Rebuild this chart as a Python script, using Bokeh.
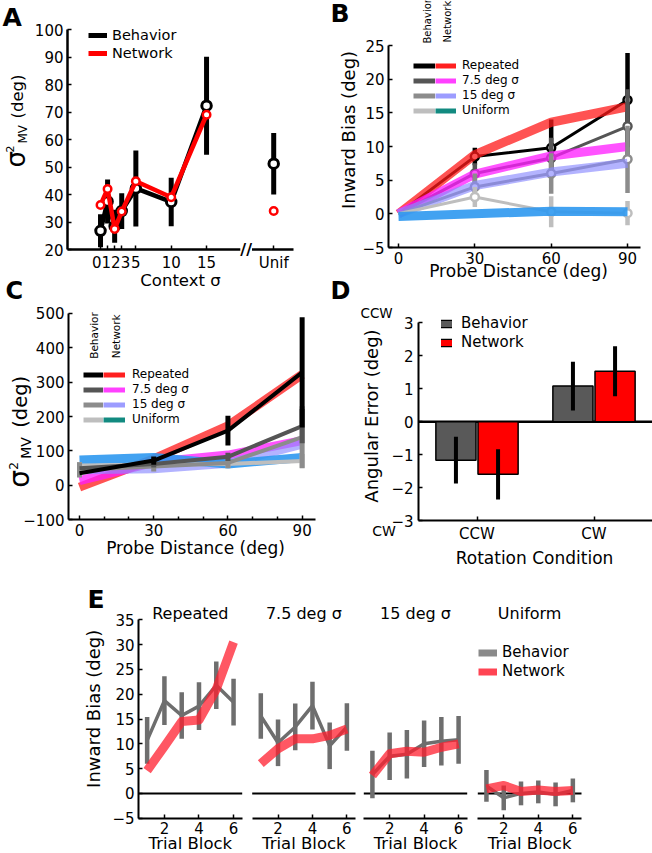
from math import pi
from bokeh.plotting import figure
from bokeh.models import Label, Legend, LegendItem, FixedTicker, Range1d
from bokeh.layouts import row, column
from bokeh.embed import file_html
from bokeh.resources import INLINE

FONT = "DejaVu Sans"
NAN = float("nan")

# ---------------- Panel A data ----------------
A_SIGMA = [0, 1, 2, 3, 5, 10, 15]
A_BEH = [26.8, 37.5, 28.5, 34.0, 42.2, 37.3, 72.3]
A_BEH_ERR = [6.0, 8.0, 6.0, 6.5, 13.8, 8.8, 17.8]
A_NET = [36.2, 42.0, 27.5, 33.8, 44.8, 39.0, 69.0]
A_UNIF_POS = [24.5]
A_UNIF_BEH = [51.2]
A_UNIF_BEH_ERR = [11.2]
A_UNIF_NET = [34.0]
A_TICK_POS = [1.5, 5, 10, 15, 24.5]
A_TICK_LABELS = ["0123", "5", "10", "15", "Unif"]
A_BREAK = 20.6

# ---------------- Panel B data ----------------
PROBE = [0, 30, 60, 90]
CONDITIONS = ["Repeated", "7.5 deg σ", "15 deg σ", "Uniform"]
B_BEH = [[0, 8.5, 9.8, 16.9], [0, 6.0, 8.3, 13.0], [0, 4.0, 6.0, 8.1], [0, 2.5, 0.3, 0.1]]
B_BEH_ERR = [[0, 1.3, 4.2, 7.0], [0, 1.5, 3.0, 5.5], [0, 2.0, 3.0, 5.0], [0, 1.5, 2.3, 1.8]]
B_NET = [[0, 8.8, 13.6, 15.9], [0, 5.9, 8.6, 10.0], [0, 4.2, 6.2, 7.5], [-0.4, 0.0, 0.4, 0.3]]

# ---------------- Panel C data ----------------
C_BEH = [[35, 72, 159, 328], [50, 62, 83, 172], [45, 55, 65, 140], [58, 60, 62, 71]]
C_BEH_ERR = [[0, 12, 43, 160], [0, 10, 12, 50], [22, 15, 15, 90], [10, 10, 10, 20]]
C_NET = [[-5, 77, 173, 322], [14, 67, 88, 130], [45, 48, 64, 120], [74, 81, 62, 81]]

# ---------------- Panel D data ----------------
D_CONDITIONS = ["CCW", "CW"]
D_POS = [1, 2]
D_BEH = [-1.17, 1.08]
D_BEH_ERR = [0.71, 0.74]
D_NET = [-1.6, 1.53]
D_NET_ERR = [0.76, 0.76]

# ---------------- Panel E data ----------------
E_BLOCK = [1, 2, 3, 4, 5, 6]
E_TITLES = ["Repeated", "7.5 deg σ", "15 deg σ", "Uniform"]
E_BEH = [[10.7, 18.7, 15.7, 17.6, 21.8, 18.4],
         [15.6, 10.2, 13.4, 17.7, 9.6, 13.4],
         [3.8, 7.5, 7.9, 10.0, 10.5, 10.8],
         [1.5, -0.9, 0.0, 0.3, -0.2, 0.6]]
E_BEH_ERR = [[4.7, 4.9, 4.7, 4.8, 4.8, 4.7],
             [4.6, 4.7, 4.7, 4.8, 4.7, 4.8],
             [4.8, 4.8, 4.9, 4.7, 4.9, 4.8],
             [3.2, 2.5, 2.4, 2.3, 2.4, 2.4]]
E_NET = [[4.6, 9.5, 14.5, 14.8, 21.0, 30.5],
         [6.0, 9.0, 11.0, 11.0, 11.7, 13.0],
         [3.6, 8.0, 8.5, 8.3, 9.3, 10.0],
         [0.9, 1.6, 0.4, 0.7, 0.4, 0.6]]

# ---------------- styles ----------------
BEH_COLORS = ["#000000", "#555555", "#8c8c8c", "#bebebe"]
NET_COLORS = ["#ff1a1a", "#ff1aff", "#8a8aff", "#2e98f0"]
NET_ALPHA = [0.75, 0.75, 0.65, 0.9]
NET_LEG_COLORS = ["#ff2020", "#ff40ff", "#9c9cff", "#128a80"]
BASE_SHIFT = 0.33   # rendered alphabetic baseline sits this many em below the anchor
ROW1_H = 304


def fig(W, H, origin, box, xr, yr, axis_w=2):
    """origin = page (x, y) of canvas; box = page (left, top, right, bottom) of the axes box."""
    ox, oy = origin
    l, t, r, b = box[0] - ox, box[1] - oy, box[2] - ox, box[3] - oy
    ppx = (r - l) / (xr[1] - xr[0])
    ppy = (b - t) / (yr[1] - yr[0])
    xs = (xr[0] - l / ppx, xr[1] + (W - r) / ppx)
    ys = (yr[0] - (H - b) / ppy, yr[1] + t / ppy)
    p = figure(width=W, height=H, x_range=Range1d(*xs), y_range=Range1d(*ys), title=None,
               output_backend="svg", toolbar_location=None, tools="", min_border=0)
    p.grid.visible = False
    p.outline_line_color = None
    p.background_fill_color = "white"
    p.border_fill_color = "white"
    p.xaxis.fixed_location = yr[0]
    p.xaxis.bounds = xr
    p.yaxis.fixed_location = xr[0]
    p.yaxis.bounds = yr
    for ax in p.axis:
        ax.axis_line_width = axis_w
        ax.axis_line_color = "black"
        ax.major_tick_in = 4
        ax.major_tick_out = 0
        ax.minor_tick_in = 0
        ax.minor_tick_out = 0
        ax.major_tick_line_width = 1.5
        ax.major_tick_line_color = "black"
        ax.minor_tick_line_color = "black"
        ax.minor_tick_line_width = 1.5
        ax.major_label_text_font = FONT
        ax.major_label_text_font_size = "15px"
        ax.major_label_text_color = "black"
        ax.major_label_standoff = 4
    p._origin = (ox, oy, W, H)
    return p


def lab(p, text, x, y, dx, dy, size, align="left", angle=0.0, bold=False):
    shift = BASE_SHIFT * size
    if angle == 0:
        dy += shift
    else:
        dx -= shift
    p.add_layout(Label(x=x, y=y, x_offset=dx, y_offset=dy, text=text, angle=angle,
                       text_font=FONT, text_font_size=f"{size}px", text_color="black",
                       text_align=align, text_baseline="alphabetic",
                       text_font_style="bold" if bold else "normal"))


def legend(p, items, page_x, page_bottom, gw, gh, size, standoff):
    ox, oy, W, H = p._origin
    lg = Legend(items=items, location=(page_x - ox, oy + H - page_bottom), glyph_width=gw,
                glyph_height=gh, label_height=gh, label_standoff=standoff, spacing=0, padding=0,
                margin=0, border_line_color=None, background_fill_alpha=0,
                label_text_font=FONT, label_text_font_size=f"{size}px", label_text_color="black")
    p.add_layout(lg)


def proxy(p, color, width, alpha=1.0, cap="butt"):
    return p.line(x=[NAN], y=[NAN], line_color=color, line_width=width, line_alpha=alpha, line_cap=cap)


def sigma_mv(p, x0, y0, dx, dy, sizes, gaps):
    """σ, superscript 2, subscript MV and (deg), stacked upward along a rotated baseline."""
    s_sig, s_two, s_mv, s_deg = sizes
    g_two, g_mv, g_deg = gaps
    lab(p, "σ", x0, y0, dx, dy, s_sig, angle=pi / 2)
    lab(p, "2", x0, y0, dx - 0.4 * s_sig, dy + g_two, s_two, angle=pi / 2)
    lab(p, "MV", x0, y0, dx + 2, dy + g_mv, s_mv, angle=pi / 2)
    lab(p, "(deg)", x0, y0, dx - 2, dy + g_deg, s_deg, angle=pi / 2)


def lo_hi(m, e):
    return [a - b for a, b in zip(m, e)], [a + b for a, b in zip(m, e)]


# ================= Panel A =================
AX = (-4.67, 27.3)
AY = (20, 100)
pA = fig(330, ROW1_H, (0, 0), (67, 29, 293, 249), AX, AY, axis_w=2.5)
pA.yaxis.ticker = FixedTicker(ticks=[20, 30, 40, 50, 60, 70, 80, 90, 100])
pA.xaxis.ticker = FixedTicker(ticks=A_TICK_POS, minor_ticks=A_SIGMA + A_UNIF_POS)
pA.xaxis.major_label_overrides = {k: v for k, v in zip(A_TICK_POS, A_TICK_LABELS)}
pA.xaxis.major_tick_in = 0
pA.xaxis.minor_tick_in = 4

lo, hi = lo_hi(A_BEH, A_BEH_ERR)
pA.segment(x0=A_SIGMA, y0=lo, x1=A_SIGMA, y1=hi, line_color="black", line_width=5)
ulo, uhi = lo_hi(A_UNIF_BEH, A_UNIF_BEH_ERR)
pA.segment(x0=A_UNIF_POS, y0=ulo, x1=A_UNIF_POS, y1=uhi, line_color="black", line_width=5)
pA.line(A_SIGMA, A_BEH, line_color="black", line_width=4.5, line_join="round")
pA.scatter(A_SIGMA, A_BEH, size=9.5, line_color="black", line_width=3, fill_color="white")
pA.scatter(A_UNIF_POS, A_UNIF_BEH, size=9.5, line_color="black", line_width=3, fill_color="white")
pA.line(A_SIGMA, A_NET, line_color="#ff0000", line_width=4.5, line_join="round")
pA.scatter(A_SIGMA, A_NET, size=7.5, line_color="#ff0000", line_width=2.5, fill_color="white")
pA.scatter(A_UNIF_POS, A_UNIF_NET, size=7.5, line_color="#ff0000", line_width=2.5, fill_color="white")

legend(pA, [LegendItem(label="Behavior", renderers=[proxy(pA, "black", 5)]),
            LegendItem(label="Network", renderers=[proxy(pA, "#ff0000", 5)])], 88, 62, 19, 18, 14.5, 5)

pA.add_layout(Label(x=A_BREAK, y=AY[0], text="//", text_font=FONT, text_font_size="16px",
                    text_font_style="bold", text_color="black", text_align="center",
                    text_baseline="middle", background_fill_color="white"))
lab(pA, "A", AX[0], AY[1], -65, 4, 25, bold=True)
sigma_mv(pA, AX[0], AY[0], -43, 82, (26, 11, 12, 16.5), (15, 24, 49))
lab(pA, "Context σ", AX[0], AY[0], 113, -36, 16.5, align="center")
# panel letter of C sits just above C's canvas
lab(pA, "C", AX[0], AY[0], -62, -49, 24, bold=True)

# ================= Panel B =================
BX = (-3.93, 95.1)
BY = (-5, 25)
pB = fig(322, ROW1_H, (330, 0), (388, 45, 640, 247), BX, BY)
pB.xaxis.ticker = FixedTicker(ticks=PROBE)
pB.yaxis.ticker = FixedTicker(ticks=[-5, 0, 5, 10, 15, 20, 25])
for i in range(4):
    col = BEH_COLORS[i]
    lo, hi = lo_hi(B_BEH[i], B_BEH_ERR[i])
    pB.segment(x0=PROBE[1:], y0=lo[1:], x1=PROBE[1:], y1=hi[1:], line_color=col, line_width=4.5)
    pB.line(PROBE, B_BEH[i], line_color=col, line_width=3, line_join="round")
    pB.scatter(PROBE[1:], B_BEH[i][1:], size=8, line_color=col, line_width=2.5, fill_color="white")
    pB.line(PROBE, B_NET[i], line_color=NET_COLORS[i], line_alpha=NET_ALPHA[i], line_width=9,
            line_join="round")

legend(pB, [LegendItem(label=" ", renderers=[proxy(pB, c, 5)]) for c in BEH_COLORS],
       413, 117.7, 22, 15, 12, 0)
legend(pB, [LegendItem(label=CONDITIONS[i], renderers=[proxy(pB, NET_LEG_COLORS[i], 5)]) for i in range(4)],
       435, 117.7, 21, 15, 12, 6)
lab(pB, "Behavior", BX[0], BY[1], 42, 2, 10, angle=pi / 2)
lab(pB, "Network", BX[0], BY[1], 62, 3, 10, angle=pi / 2)
lab(pB, "B", BX[0], BY[1], -58, 24, 25, bold=True)
lab(pB, "Inward Bias (deg)", BX[0], BY[0], -34, 117.5, 18, align="center", angle=pi / 2)
lab(pB, "Probe Distance (deg)", BX[0], BY[0], 130, -29, 17, align="center")
# panel letter of D sits just above D's canvas
lab(pB, "D", BX[0], BY[0], -58, -51, 24, bold=True)

# ================= Panel C =================
CX = (-4.45, 95.4)
CY = (-100, 500)
pC = fig(330, 585 - ROW1_H, (0, ROW1_H), (68, 312.7, 315, 519.3), CX, CY)
pC.xaxis.ticker = FixedTicker(ticks=PROBE, minor_ticks=[10, 20, 40, 50, 70, 80])
pC.xaxis.minor_tick_in = 3
pC.yaxis.ticker = FixedTicker(ticks=[-100, 0, 100, 200, 300, 400, 500])
for i in range(4):
    pC.line(PROBE, C_NET[i], line_color=NET_COLORS[i], line_alpha=NET_ALPHA[i], line_width=9,
            line_join="round")
for i in reversed(range(4)):
    col = BEH_COLORS[i]
    lo, hi = lo_hi(C_BEH[i], C_BEH_ERR[i])
    pC.segment(x0=PROBE, y0=lo, x1=PROBE, y1=hi, line_color=col, line_width=5)
    pC.line(PROBE, C_BEH[i], line_color=col, line_width=4, line_join="round")

legend(pC, [LegendItem(label=" ", renderers=[proxy(pC, c, 5)]) for c in BEH_COLORS],
       83, 426.5, 20, 15, 12, 0)
legend(pC, [LegendItem(label=CONDITIONS[i], renderers=[proxy(pC, NET_LEG_COLORS[i], 5)]) for i in range(4)],
       103, 426.5, 22, 15, 12, 7)
lab(pC, "Behavior", CX[0], CY[1], 29, -45.6, 10.5, angle=pi / 2)
lab(pC, "Network", CX[0], CY[1], 51, -45, 10.5, angle=pi / 2)
sigma_mv(pC, CX[0], CY[0], -40, 32, (28, 12, 14, 19.5), (18, 29, 60))
lab(pC, "Probe Distance (deg)", CX[0], CY[0], 127, -34, 17, align="center")

# ================= Panel D =================
DX = (0.5, 2.5)
DY = (-3, 3)
pD = fig(322, 585 - ROW1_H, (330, ROW1_H), (418, 322.3, 652, 520), DX, DY)
pD.xaxis.ticker = FixedTicker(ticks=D_POS)
pD.xaxis.major_label_overrides = {k: v for k, v in zip(D_POS, D_CONDITIONS)}
pD.yaxis.ticker = FixedTicker(ticks=[-3, -2, -1, 0, 1, 2, 3])
pD.yaxis.major_label_overrides = {-3: "−3", -2: "−2", -1: "−1", 0: "0", 1: "1", 2: "2", 3: "3"}
pD.yaxis.major_label_standoff = 5
pD.segment(x0=[DX[0]], y0=[0], x1=[DX[1]], y1=[0], line_color="black", line_width=2.5)
bx = [v - 0.18 for v in D_POS]
nx = [v + 0.18 for v in D_POS]
pD.vbar(x=bx, top=D_BEH, bottom=0, width=0.343, fill_color="#595959", line_color="black", line_width=1.5)
pD.vbar(x=nx, top=D_NET, bottom=0, width=0.343, fill_color="#ff0000", line_color="black", line_width=1.5)
lo, hi = lo_hi(D_BEH, D_BEH_ERR)
pD.segment(x0=bx, y0=lo, x1=bx, y1=hi, line_color="black", line_width=4)
lo, hi = lo_hi(D_NET, D_NET_ERR)
pD.segment(x0=nx, y0=lo, x1=nx, y1=hi, line_color="black", line_width=4)

d_b = [proxy(pD, "black", 8.5, cap="square"), proxy(pD, "#595959", 6, cap="square")]
d_n = [proxy(pD, "black", 8.5, cap="square"), proxy(pD, "#ff0000", 6, cap="square")]
legend(pD, [LegendItem(label="Behavior", renderers=d_b),
            LegendItem(label="Network", renderers=d_n)], 441, 351.8, 11, 19, 15, 9)
lab(pD, "CCW", DX[0], DY[1], -58, 5.6, 13.5)
lab(pD, "CW", DX[0], DY[0], -46.3, -15, 14)
lab(pD, "Angular Error (deg)", DX[0], DY[0], -41, 104.5, 18, align="center", angle=pi / 2)
lab(pD, "Rotation Condition", DX[0], DY[0], 116, -42.7, 17, align="center")

# ================= Panel E =================
EX = (0.5, 6.5)
EY = (-5, 35)
E_CANVAS = [(0, 246, 138, 241.7), (246, 113, 251.7, 355), (359, 113, 363.3, 466.7), (472, 180, 477.3, 581)]
e_figs = []
for k in range(4):
    ox, W, bl, br = E_CANVAS[k]
    pe = fig(W, 268, (ox, 585), (bl, 619.3, br, 817.7), EX, EY)
    pe.xaxis.ticker = FixedTicker(ticks=[2, 4, 6])
    pe.yaxis.ticker = FixedTicker(ticks=[-5, 0, 5, 10, 15, 20, 25, 30, 35])
    pe.yaxis.major_label_overrides = {-5: "−5"}
    if k > 0:
        pe.yaxis.visible = False
    pe.segment(x0=[EX[0]], y0=[0], x1=[EX[1]], y1=[0], line_color="black", line_width=2)
    lo, hi = lo_hi(E_BEH[k], E_BEH_ERR[k])
    pe.segment(x0=E_BLOCK, y0=lo, x1=E_BLOCK, y1=hi, line_color="#6e6e6e", line_width=4.5)
    pe.line(E_BLOCK, E_BEH[k], line_color="#6e6e6e", line_width=3.5, line_join="round")
    pe.line(E_BLOCK, E_NET[k], line_color="#ff1f2f", line_alpha=0.75, line_width=9, line_join="round")
    xc = (EX[0] + EX[1]) / 2
    lab(pe, E_TITLES[k], xc, EY[1], 0, 1.3, 16, align="center")
    lab(pe, "Trial Block", xc, EY[0], 0, -30.3, 16.5, align="center")
    e_figs.append(pe)

e1, e4 = e_figs[0], e_figs[3]
lab(e1, "E", EX[0], EY[1], -51, 12.3, 25, bold=True)
lab(e1, "Inward Bias (deg)", EX[0], EY[0], -39, 109.4, 18, align="center", angle=pi / 2)
legend(e4, [LegendItem(label="Behavior", renderers=[proxy(e4, "#8a8a8a", 7)]),
            LegendItem(label="Network", renderers=[proxy(e4, "#ff3040", 7, alpha=0.9)])],
       478, 680.5, 19, 19, 15, 5)

layout = column(row(pA, pB), row(pC, pD), row(*e_figs))
open("out.html", "w").write(file_html(layout, INLINE))
